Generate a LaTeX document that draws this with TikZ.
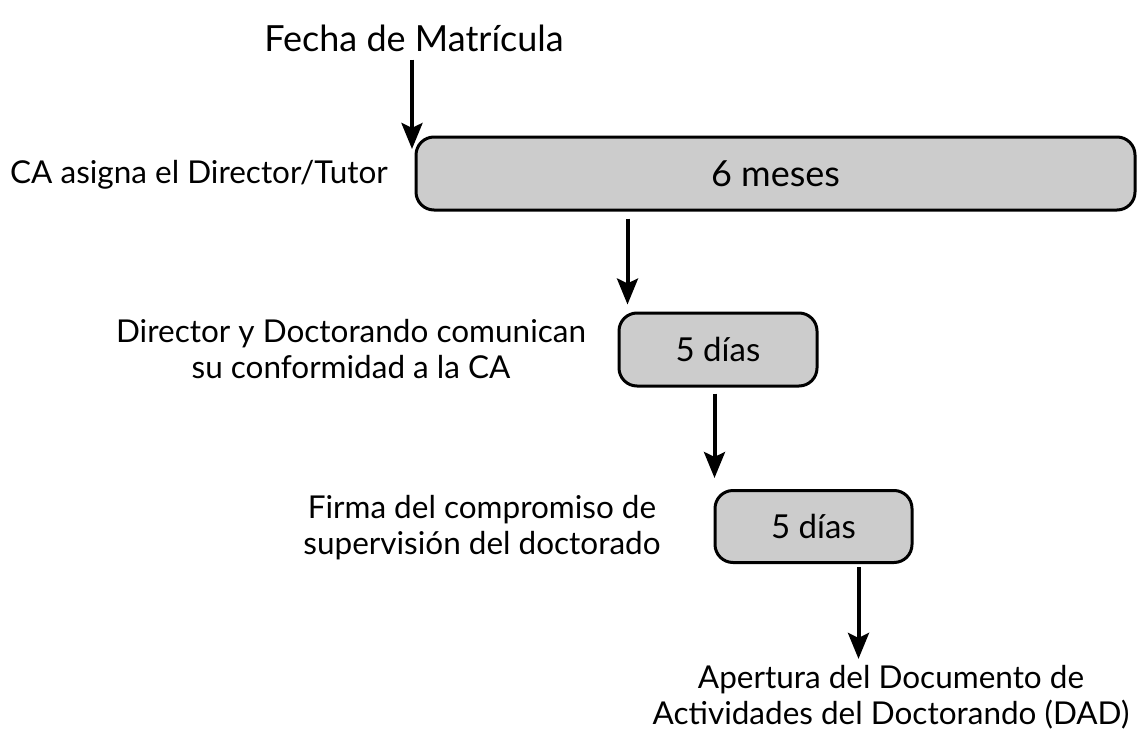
\documentclass[tikz,border=0pt]{standalone}
\usepackage{fontspec}
\setmainfont{Lato}
\usepackage{tikz}
\usetikzlibrary{arrows.meta, calc, positioning}

\begin{document}
\begin{tikzpicture}[x=1pt, y=-1pt,
    caja/.style={draw, line width=3pt, fill=black!20, rounded corners=18pt,
        font=\fontsize{33}{38}\selectfont, inner sep=0pt},
    texto/.style={align=center, font=\fontsize{31.5}{36}\selectfont, inner sep=0pt},
    flecha/.style={line width=4pt, -{Stealth[length=26pt, width=21pt, inset=5pt]}}]
                \useasboundingbox (0,0) rectangle (1137,733);

                % Cajas
                \node[caja, minimum width=719pt, minimum height=73pt, font=\fontsize{36}{40}\selectfont] (meses) at (775.5,173.5) {6 meses};
                \node[caja, minimum width=198pt, minimum height=73pt] (diasA) at (718,349.5) {5 días};
                \node[caja, minimum width=197pt, minimum height=72pt] (diasB) at (813.5,526.5) {5 días};

                % Textos
                \node[texto, font=\fontsize{36}{40}\selectfont] (fecha) at (414,38) {Fecha de Matrícula};
                \node[texto] (asigna) at (199,175) {CA asigna el Director/Tutor};
                \node[texto] (conformidad) at (351,349) {Director y Doctorando comunican\\su conformidad a la CA};
                \node[texto] (firma) at (482,528) {Firma del compromiso de\\supervisión del doctorado};
                \node[texto] (apertura) at (891,697) {Apertura del Documento de\\Actividades del Doctorando (DAD)};

                % Puntos
                \coordinate (entrada) at (412,149);

                % Flechas
                \draw[flecha] ($(fecha.south -| entrada)+(0,8)$) -- (entrada);
                \draw[flecha] ($(meses.south -| diasA.west)+(10,7)$) -- ($(diasA.north west)+(10,-7)$);
                \draw[flecha] ($(diasA.south -| diasB.west)+(1,6)$) -- ($(diasB.north west)+(1,-11)$);
                \draw[flecha] ($(diasB.south west)+(145,3)$) -- ($(apertura.north -| diasB.west)+(145,-6)$);
            \end{tikzpicture}
\end{document}
